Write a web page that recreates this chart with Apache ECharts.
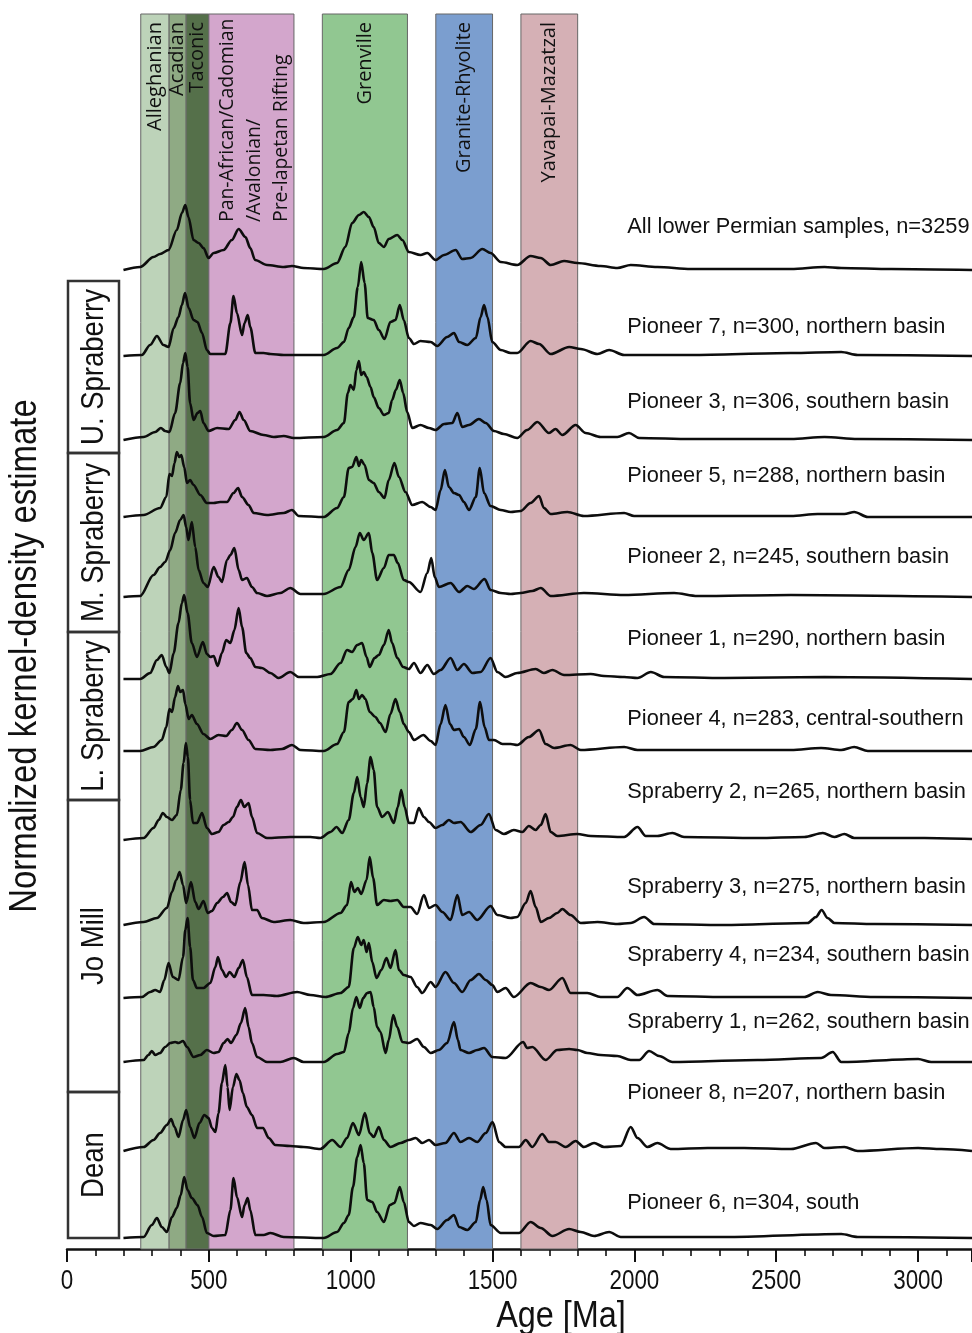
<!DOCTYPE html>
<html><head><meta charset="utf-8">
<script src="https://cdn.jsdelivr.net/npm/echarts@6/dist/echarts.min.js"></script>
<style>html,body{margin:0;padding:0;background:#fff}#c{width:972px;height:1333px}</style>
</head><body><div id="c"></div>
<script>
// ---------------- DATA ----------------
const bandNames = ['Alleghanian','Acadian','Taconic','Pan-African/Cadomian\n/Avalonian/\nPre-lapetan Rifting','Grenville','Granite-Rhyolite','Yavapai-Mazatzal'];
const bandStart = [260, 360, 420, 500, 900, 1300, 1600];
const bandEnd   = [360, 420, 500, 800, 1200, 1500, 1800];
const curveNames = ['All lower Permian samples, n=3259','Pioneer 7, n=300, northern basin','Pioneer 3, n=306, southern basin','Pioneer 5, n=288, northern basin','Pioneer 2, n=245, southern basin','Pioneer 1, n=290, northern basin','Pioneer 4, n=283, central-southern','Spraberry 2, n=265, northern basin','Spraberry 3, n=275, northern basin','Spraberry 4, n=234, southern basin','Spraberry 1, n=262, southern basin','Pioneer 8, n=207, northern basin','Pioneer 6, n=304, south'];
const formationNames = ['U. Spraberry','M. Spraberry','L. Spraberry','Jo Mill','Dean'];
const ageTickLabels = [0, 500, 1000, 1500, 2000, 2500, 3000];
const xAxisTitle = 'Age [Ma]';
const yAxisTitle = 'Normalized kernel-density estimate';

// each curve: [age (Ma), normalized density]
const allPermian = [[199,0],[258,3],[305,13],[328,16],[358,20],[387,40],[405,57],[417,65],[428,53],[446,30],[464,27],[481,22],[499,12],[517,17],[552,20],[581,30],[605,41],[629,33],[646,22],[663,10],[705,5],[764,3],[793,4],[834,2],[905,1],[952,7],[981,23],[1005,47],[1029,55],[1046,58],[1064,53],[1081,43],[1099,27],[1117,23],[1134,31],[1164,35],[1182,30],[1205,18],[1246,15],[1270,17],[1299,10],[1329,15],[1370,20],[1393,11],[1423,12],[1464,21],[1493,17],[1529,8],[1587,5],[1634,14],[1670,12],[1705,5],[1752,9],[1799,7],[1881,4],[1940,2],[1987,5],[2081,3],[2199,1],[2552,1],[2670,3],[2729,2],[2905,1],[3190,0]];
const pioneer7 = [[199,0],[264,1],[293,11],[317,20],[340,11],[358,9],[376,28],[393,39],[405,51],[416,63],[429,48],[446,36],[460,34],[476,23],[493,6],[505,2],[558,2],[576,33],[587,60],[599,43],[617,21],[626,33],[637,41],[646,29],[664,3],[693,3],[717,2],[764,1],[905,1],[952,8],[976,14],[993,28],[1011,39],[1025,69],[1037,94],[1049,73],[1060,38],[1081,36],[1099,26],[1119,17],[1140,34],[1158,36],[1173,51],[1187,36],[1205,18],[1223,12],[1246,15],[1282,14],[1305,10],[1340,19],[1364,23],[1382,14],[1411,11],[1441,18],[1458,39],[1470,51],[1482,39],[1499,14],[1529,6],[1564,3],[1587,3],[1634,15],[1664,12],[1705,2],[1770,9],[1811,7],[1870,2],[1911,6],[1964,1],[2199,1],[2552,3],[2729,4],[2787,1],[3190,0]];
const pioneer3 = [[199,0],[270,3],[311,8],[331,12],[346,9],[361,8],[381,27],[399,57],[409,77],[417,87],[425,73],[434,37],[446,20],[460,27],[470,29],[481,17],[499,9],[529,12],[570,11],[593,20],[608,28],[623,20],[646,9],[693,5],[729,3],[764,4],[799,2],[905,3],[952,10],[976,17],[990,47],[999,55],[1011,50],[1020,70],[1029,79],[1037,65],[1046,68],[1056,63],[1070,53],[1081,43],[1099,32],[1117,25],[1134,27],[1146,40],[1159,50],[1173,60],[1185,47],[1199,28],[1217,12],[1246,15],[1276,12],[1299,10],[1329,16],[1358,17],[1376,27],[1393,13],[1417,15],[1452,21],[1476,17],[1505,9],[1540,6],[1587,2],[1622,10],[1658,18],[1699,7],[1722,11],[1746,5],[1793,15],[1828,7],[1881,3],[1940,3],[1981,7],[2017,2],[2199,1],[2552,1],[2670,3],[2787,1],[3190,0]];
const pioneer5 = [[199,0],[270,2],[328,9],[350,20],[361,43],[370,41],[379,54],[387,65],[396,60],[403,62],[413,50],[423,34],[434,37],[446,32],[470,22],[493,14],[517,14],[540,15],[564,15],[587,24],[603,29],[617,20],[640,12],[658,4],[705,2],[764,4],[793,7],[817,1],[905,0],[952,9],[976,20],[993,49],[1005,50],[1020,60],[1029,51],[1037,57],[1049,52],[1064,37],[1081,34],[1099,25],[1119,19],[1134,37],[1154,54],[1170,40],[1193,25],[1217,12],[1252,15],[1282,10],[1299,7],[1317,27],[1332,47],[1346,30],[1364,24],[1382,22],[1399,15],[1417,7],[1441,20],[1455,49],[1470,24],[1493,11],[1529,7],[1564,5],[1599,6],[1634,14],[1664,21],[1681,9],[1705,3],[1764,5],[1822,1],[1964,4],[1999,1],[2552,1],[2646,3],[2740,3],[2775,5],[2823,0],[3190,0]];
const pioneer2 = [[199,0],[258,1],[305,22],[328,30],[346,35],[364,47],[381,64],[399,77],[411,82],[420,70],[428,57],[440,75],[452,50],[464,27],[481,14],[496,10],[517,30],[534,20],[546,15],[564,37],[576,42],[590,49],[605,27],[617,17],[634,19],[652,10],[670,4],[705,1],[752,4],[787,9],[823,3],[905,3],[964,10],[993,27],[1017,50],[1032,64],[1046,57],[1064,64],[1076,44],[1093,17],[1117,29],[1134,42],[1152,42],[1166,34],[1187,17],[1205,15],[1246,5],[1270,24],[1284,39],[1296,20],[1311,10],[1352,14],[1382,5],[1411,11],[1434,8],[1472,18],[1493,7],[1529,4],[1564,3],[1599,4],[1640,6],[1670,9],[1705,1],[1822,4],[1964,2],[2140,4],[2222,1],[2552,2],[3190,0]];
const pioneer1 = [[199,0],[258,0],[293,6],[317,19],[334,24],[350,12],[361,6],[376,26],[393,56],[405,76],[413,84],[425,66],[440,36],[458,22],[479,37],[493,25],[505,22],[517,23],[531,13],[546,26],[561,39],[576,36],[590,49],[605,71],[617,52],[632,26],[646,21],[664,12],[687,11],[717,6],[746,1],[787,7],[817,2],[882,2],[929,5],[964,16],[987,29],[1005,27],[1023,34],[1040,36],[1056,22],[1067,12],[1084,21],[1099,24],[1117,34],[1134,49],[1146,36],[1164,21],[1185,12],[1205,10],[1223,16],[1246,6],[1270,14],[1293,5],[1317,9],[1352,21],[1376,9],[1399,15],[1429,6],[1458,7],[1493,21],[1517,7],[1546,2],[1587,6],[1652,10],[1681,6],[1711,9],[1752,4],[1846,5],[1893,3],[1964,2],[2011,1],[2058,7],[2105,2],[2317,1],[2670,2],[3190,0]];
const pioneer4 = [[199,0],[258,0],[305,4],[334,11],[350,24],[361,42],[370,39],[381,54],[391,65],[399,59],[409,61],[417,47],[429,32],[440,36],[458,27],[481,17],[505,12],[534,16],[561,15],[581,21],[599,28],[617,21],[640,11],[664,2],[717,1],[758,2],[793,6],[823,1],[905,0],[952,7],[976,19],[993,49],[1008,52],[1020,61],[1029,52],[1040,56],[1052,52],[1067,39],[1087,34],[1103,28],[1123,19],[1140,37],[1158,52],[1173,39],[1187,27],[1205,19],[1223,11],[1256,16],[1282,10],[1299,6],[1317,27],[1334,46],[1350,27],[1364,21],[1382,22],[1399,14],[1420,6],[1441,22],[1456,49],[1472,24],[1487,11],[1505,11],[1535,7],[1564,7],[1587,6],[1628,14],[1664,21],[1687,7],[1717,3],[1775,6],[1811,1],[1964,4],[2011,1],[2552,1],[2658,3],[2729,1],[2775,4],[2823,0],[3190,0]];
const spraberry2 = [[199,0],[270,2],[305,12],[323,20],[338,27],[352,23],[370,20],[387,25],[401,50],[411,77],[419,97],[426,83],[434,40],[444,17],[458,17],[476,27],[493,12],[511,6],[534,8],[552,15],[570,18],[585,23],[599,33],[613,40],[625,33],[640,37],[652,23],[670,7],[705,2],[787,3],[858,3],[893,2],[929,8],[950,13],[970,7],[993,20],[1011,47],[1023,63],[1035,43],[1046,33],[1058,57],[1070,83],[1081,70],[1093,33],[1111,23],[1131,28],[1152,17],[1166,33],[1178,50],[1190,33],[1205,17],[1223,17],[1240,32],[1258,23],[1276,18],[1299,12],[1323,15],[1346,20],[1364,17],[1387,18],[1423,8],[1458,15],[1487,26],[1511,10],[1540,6],[1575,10],[1605,8],[1628,14],[1652,10],[1670,15],[1687,26],[1705,8],[1728,4],[1799,6],[1846,4],[1964,3],[2011,13],[2040,4],[2081,4],[2134,7],[2175,3],[2434,2],[2599,3],[2664,7],[2705,3],[2740,6],[2775,2],[3023,2],[3190,1]];
const spraberry3 = [[199,0],[270,3],[317,7],[352,17],[370,33],[385,45],[397,53],[409,40],[420,22],[437,43],[452,23],[464,16],[481,24],[496,12],[511,14],[529,22],[550,28],[564,32],[578,23],[593,20],[611,43],[626,63],[638,40],[652,15],[670,15],[687,7],[729,3],[787,5],[834,2],[905,3],[964,12],[987,20],[1001,43],[1013,33],[1025,37],[1037,31],[1056,45],[1067,68],[1079,47],[1093,20],[1117,25],[1140,24],[1164,25],[1187,18],[1211,18],[1234,11],[1258,30],[1276,17],[1299,20],[1323,13],[1352,5],[1376,30],[1393,10],[1417,13],[1446,5],[1493,19],[1517,10],[1564,7],[1587,8],[1617,22],[1634,34],[1652,18],[1670,3],[1699,7],[1728,12],[1746,16],[1775,10],[1811,2],[1870,3],[1940,1],[1987,2],[2034,8],[2070,1],[2317,0],[2611,2],[2640,8],[2660,15],[2681,7],[2705,2],[2846,1],[3190,0]];
const spraberry4 = [[199,0],[264,1],[293,6],[311,8],[328,6],[343,18],[358,35],[373,21],[393,18],[409,41],[417,68],[425,80],[434,51],[444,18],[458,10],[481,10],[505,15],[523,31],[532,41],[546,28],[561,21],[573,26],[590,21],[605,30],[620,38],[634,21],[652,3],[693,3],[740,2],[811,6],[858,3],[911,1],[964,5],[993,11],[1011,50],[1025,61],[1037,53],[1046,58],[1056,46],[1064,55],[1076,36],[1091,20],[1108,28],[1126,40],[1140,30],[1158,48],[1170,28],[1187,23],[1211,21],[1234,11],[1252,5],[1282,16],[1299,11],[1334,26],[1364,15],[1393,6],[1423,18],[1452,24],[1476,18],[1499,13],[1517,6],[1546,10],[1575,1],[1634,15],[1670,11],[1699,8],[1746,20],[1775,5],[1834,5],[1881,1],[1940,1],[1975,10],[2011,3],[2081,8],[2117,2],[2317,1],[2599,1],[2646,6],[2693,3],[2846,1],[3190,0]];
const spraberry1 = [[199,0],[270,2],[287,7],[299,11],[311,7],[328,9],[346,15],[364,19],[381,20],[393,19],[409,21],[423,15],[446,5],[470,7],[493,12],[517,9],[534,10],[552,19],[566,23],[578,19],[597,27],[613,39],[628,54],[640,35],[652,19],[670,5],[705,0],[752,0],[799,4],[834,0],[905,0],[952,8],[976,10],[993,29],[1008,54],[1020,65],[1032,54],[1044,64],[1058,69],[1070,70],[1081,55],[1093,35],[1105,30],[1123,9],[1134,22],[1150,47],[1164,35],[1182,20],[1205,19],[1234,23],[1258,15],[1282,9],[1311,12],[1340,19],[1364,40],[1378,22],[1387,12],[1417,9],[1446,12],[1470,14],[1499,5],[1546,4],[1608,20],[1622,14],[1640,15],[1687,2],[1728,12],[1770,13],[1799,12],[1834,9],[1881,7],[1940,6],[1987,2],[2017,2],[2052,11],[2087,6],[2134,0],[2434,2],[2658,4],[2699,10],[2729,0],[3000,3],[3046,0],[3190,0]];
const pioneer8 = [[199,0],[270,4],[305,11],[328,18],[352,26],[367,32],[379,24],[393,14],[409,31],[420,41],[434,24],[449,13],[467,28],[484,36],[499,33],[511,23],[523,19],[534,38],[546,68],[558,86],[566,64],[573,41],[585,64],[597,77],[608,71],[620,58],[634,44],[652,36],[670,23],[691,23],[711,13],[734,6],[787,5],[834,4],[893,2],[935,11],[964,4],[987,13],[1008,28],[1029,16],[1050,38],[1067,18],[1081,14],[1099,24],[1117,11],[1140,4],[1176,8],[1205,11],[1229,13],[1252,8],[1276,11],[1299,6],[1334,8],[1364,18],[1387,9],[1417,13],[1446,9],[1476,18],[1500,29],[1523,9],[1546,4],[1593,4],[1617,11],[1640,4],[1675,17],[1699,9],[1722,9],[1758,4],[1793,10],[1822,4],[1858,8],[1893,4],[1952,5],[1987,24],[2011,13],[2046,4],[2081,8],[2128,2],[2258,3],[2387,3],[2552,2],[2640,8],[2670,3],[2740,4],[2787,0],[3000,3],[3081,2],[3190,0]];
const pioneer6 = [[199,0],[270,1],[299,13],[317,20],[334,11],[352,6],[370,21],[387,30],[401,43],[413,61],[425,48],[440,40],[460,33],[476,21],[493,5],[517,2],[558,3],[576,28],[587,60],[599,41],[617,21],[626,33],[637,40],[646,28],[664,3],[693,3],[717,5],[764,1],[905,0],[952,6],[976,15],[993,23],[1008,51],[1023,81],[1035,93],[1046,75],[1058,38],[1076,36],[1093,26],[1117,16],[1138,33],[1154,35],[1173,51],[1187,36],[1205,16],[1223,12],[1246,15],[1282,13],[1305,9],[1340,18],[1364,23],[1382,11],[1411,8],[1441,16],[1456,38],[1467,51],[1479,38],[1493,13],[1529,5],[1593,5],[1634,16],[1670,10],[1711,2],[1770,9],[1811,6],[1858,2],[1911,6],[1952,1],[2317,1],[2729,4],[2787,1],[3190,0]];
const curves = [allPermian, pioneer7, pioneer3, pioneer5, pioneer2, pioneer1, pioneer4, spraberry2, spraberry3, spraberry4, spraberry1, pioneer8, pioneer6];

// ---------------- LAYOUT / STYLE ----------------
const GRID_LEFT = 67, GRID_TOP = 14, AXIS_Y = 1249;
const X_MAX = 3190;
const Y_MAX = AXIS_Y - GRID_TOP;
const baselinePx = [270,356,440,517,597,679,751,840,925,998,1062,1151,1238];
const labelPx = [227,327,402,476,557,639,719,792,887,955,1022,1093,1203];
const bandLabelShift = [0,0,0,10,0,0,0];
const bandColors = ['#bdd3b9','#8faa84','#55704a','#d3a6cc','#91c791','#7b9ecf','#d5b0b5'];
const formationBoxPx = [[281,453],[453,632],[632,800],[800,1092],[1092,1238]];
const SANS = '"Liberation Sans",Arial,sans-serif';
const BANDFONT = '"Open Sans","Noto Sans",sans-serif';

const chart = echarts.init(document.getElementById('c'), null, {renderer:'canvas'});
const series = [];
series.push({
  type:'line', data:[[0,0]], symbol:'none', lineStyle:{opacity:0}, silent:true, z:1,
  markArea:{silent:true, data: bandNames.map((n,i)=>[
    {xAxis: bandStart[i], itemStyle:{color: bandColors[i], borderColor:'#666', borderWidth:1}},
    {xAxis: bandEnd[i]}])}
});
curves.forEach((c,i)=>{
  const off = AXIS_Y - baselinePx[i];
  series.push({type:'line', name: curveNames[i], data: c.map(p=>[p[0], off + p[1]]),
    symbol:'none', smooth:0.3, smoothMonotone:'x', z:3,
    lineStyle:{color:'#0d0d0d', width:2.6}});
});

chart.setOption({
  animation:false,
  grid:{left:GRID_LEFT, right:0, top:GRID_TOP, bottom:1333-AXIS_Y},
  xAxis:{type:'value', min:0, max:X_MAX, interval:500,
    axisLine:{lineStyle:{color:'#111', width:2.5}},
    axisTick:{length:13, lineStyle:{color:'#111', width:2}},
    minorTick:{show:true, splitNumber:5, length:7, lineStyle:{color:'#111', width:1.6}},
    splitLine:{show:false},
    axisLabel:{show:false}},
  yAxis:{type:'value', min:0, max:Y_MAX, show:false},
  series
});

const px = (x,y) => chart.convertToPixel({xAxisIndex:0, yAxisIndex:0}, [x, AXIS_Y - y]);
const graphic = [];
// band labels
bandNames.forEach((n,i)=>{
  const cx = (bandStart[i]+bandEnd[i])/2 + bandLabelShift[i];
  const multi = n.indexOf('\n')>=0;
  const p = px(cx, multi ? 222 : 22);
  graphic.push({type:'text', x:p[0], y:p[1], rotation:Math.PI/2, scaleX: multi?0.97:1, z:10,
    style:{text:n, font:'20px '+BANDFONT, fill:'#111', align: multi?'left':'right', verticalAlign:'middle', lineHeight:27}});
});
// x tick labels (condensed look)
ageTickLabels.forEach(v=>{
  const p = px(v, 1281);
  graphic.push({type:'text', x:p[0], y:p[1], scaleX:0.8, z:10,
    style:{text:String(v), font:'28px '+SANS, fill:'#111', align:'center', verticalAlign:'middle'}});
});
// curve labels
curveNames.forEach((n,i)=>{
  const p = px(1975, labelPx[i]);
  graphic.push({type:'text', x:p[0], y:p[1], z:10,
    style:{text:n, font:'21.8px '+SANS, fill:'#111', align:'left', verticalAlign:'middle'}});
});
// formation boxes
formationNames.forEach((n,i)=>{
  const [t,b] = formationBoxPx[i];
  graphic.push({type:'rect', shape:{x:68, y:t, width:51, height:b-t}, z:10,
    style:{fill:'none', stroke:'#333', lineWidth:2.5}});
  graphic.push({type:'text', x:94, y:(t+b)/2, rotation:Math.PI/2, scaleX:0.86, z:10,
    style:{text:n, font:'32px '+SANS, fill:'#111', align:'center', verticalAlign:'middle'}});
});
graphic.push({type:'text', x:26, y:656, rotation:Math.PI/2, scaleX:0.865, z:10,
  style:{text:yAxisTitle, font:'38px '+SANS, fill:'#111', align:'center', verticalAlign:'middle'}});
graphic.push({type:'text', x:561, y:1317, scaleX:0.9, z:10,
  style:{text:xAxisTitle, font:'36px '+SANS, fill:'#111', align:'center', verticalAlign:'middle'}});
chart.setOption({graphic});
</script></body></html>
